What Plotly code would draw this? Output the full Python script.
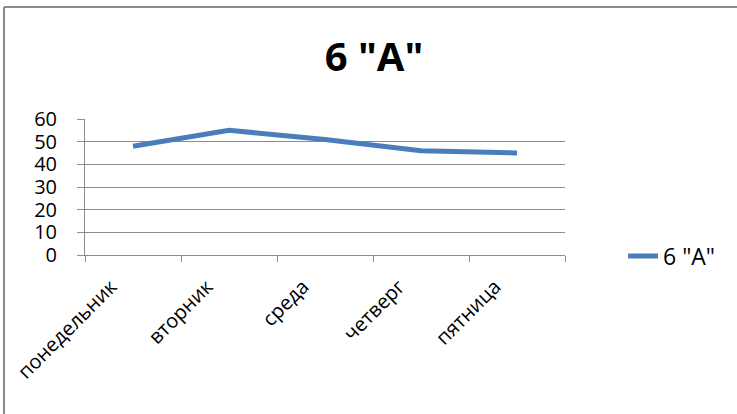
import plotly.graph_objects as go

days = ["понедельник", "вторник", "среда", "четверг", "пятница"]
values = [48, 55, 51, 46, 45]
series_name = '6 "A"'
y_ticks = [0, 10, 20, 30, 40, 50, 60]

W, H = 737, 414
L, R, T, B = 85, 172, 119, 159
pw, ph = W - L - R, H - T - B

def px_x(p):
    return (p - L) / pw

def px_y(p):
    return (H - B - p) / ph

font = "Open Sans, Liberation Sans, sans-serif"
grid = "#8c8c8c"

fig = go.Figure()
fig.add_trace(go.Scatter(
    x=days, y=values, mode="lines", name=series_name,
    line=dict(color="#4a7ebb", width=5),
))

fig.update_layout(
    width=W, height=H,
    margin=dict(l=L, r=R, t=T, b=B, autoexpand=False),
    paper_bgcolor="white", plot_bgcolor="white",
    title=dict(text="<b>" + series_name + "</b>", x=374 / W,
               xanchor="center", y=1 - 57 / H, yanchor="middle",
               font=dict(family=font, size=40, color="black")),
    showlegend=True,
    legend=dict(x=px_x(623), y=px_y(256), xanchor="left", yanchor="middle",
                font=dict(family=font, size=23, color="black"),
                bgcolor="rgba(0,0,0,0)", itemwidth=30),
    xaxis=dict(
        type="category", showgrid=False, tickson="boundaries",
        ticks="outside", ticklen=6, tickcolor=grid, tickwidth=1,
        showline=True, linecolor=grid, linewidth=1,
        tickangle=-45, tickfont=dict(family=font, size=20, color="black"),
        ticklabelstandoff=11, ticklabelshift=-22,
        range=[-0.5, 4.5],
    ),
    yaxis=dict(
        range=[0, 60], tickvals=y_ticks, showgrid=True, gridcolor=grid, gridwidth=1,
        ticks="outside", ticklen=7, tickcolor=grid,
        showline=True, linecolor=grid, linewidth=1, zeroline=False,
        ticklabelstandoff=16,
        tickfont=dict(family=font, size=20, color="black"),
    ),
    shapes=[
        dict(type="line", xref="paper", yref="paper",
             x0=px_x(4), x1=px_x(4), y0=px_y(414), y1=px_y(7),
             line=dict(color="#8a8a8a", width=2), layer="above"),
        dict(type="line", xref="paper", yref="paper",
             x0=px_x(4), x1=px_x(737), y0=px_y(7), y1=px_y(7),
             line=dict(color="#8a8a8a", width=2), layer="above"),
    ],
)

fig.write_html("out.html", config={"displayModeBar": False},
               post_script="document.body.style.margin='0';")
